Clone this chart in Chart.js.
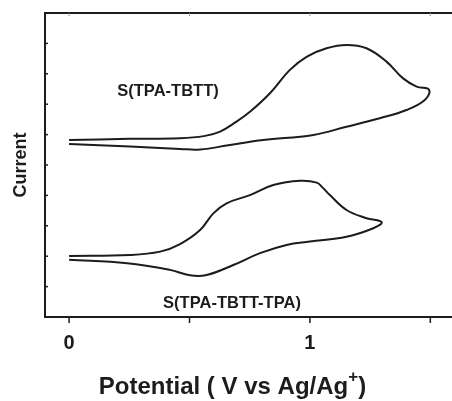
<!DOCTYPE html>
<html>
<head>
<meta charset="utf-8">
<script src="https://cdn.jsdelivr.net/npm/chart.js@4"></script>
<style>
  html, body { margin: 0; padding: 0; background: #fff; }
  #wrap { width: 452px; height: 401px; position: relative; }
</style>
</head>
<body>
<div id="wrap"><canvas id="cvChart"></canvas></div>
<script>
// S(TPA-TBTT) loop: forward scan then return scan
const tbttX = [0, 0.25, 0.46, 0.56, 0.627, 0.69, 0.751, 0.834, 0.917, 0.986, 1.069, 1.152, 1.235, 1.318, 1.387, 1.443, 1.495,
               1.477, 1.401, 1.29, 1.152, 1.014, 0.806, 0.668, 0.544, 0.461, 0.253, 0];
const tbttY = [5.82, 5.86, 5.88, 5.95, 6.1, 6.4, 6.75, 7.36, 8.13, 8.56, 8.84, 8.95, 8.84, 8.4, 7.85, 7.58, 7.47,
               7.14, 6.81, 6.54, 6.26, 5.99, 5.82, 5.66, 5.51, 5.53, 5.61, 5.69];

// S(TPA-TBTT-TPA) loop
const tpaX = [0, 0.253, 0.378, 0.461, 0.544, 0.599, 0.654, 0.751, 0.848, 0.959, 1.028, 1.055, 1.083, 1.152, 1.235, 1.298,
              1.263, 1.152, 1.0, 0.903, 0.793, 0.682, 0.571, 0.502, 0.419, 0.241, 0];
const tpaY = [2.01, 2.04, 2.15, 2.4, 2.86, 3.41, 3.74, 4.01, 4.34, 4.48, 4.42, 4.24, 4.01, 3.52, 3.25, 3.12,
              2.92, 2.64, 2.48, 2.37, 2.1, 1.71, 1.38, 1.37, 1.55, 1.77, 1.88];

const xTicks = [0, 0.5, 1, 1.5];
const xTickLabels = ['0', '', '1', ''];
const yTicks = [1, 2, 3, 4, 5, 6, 7, 8, 9];

const ink = '#1c1c1c';

function toPoints(xs, ys) {
    return xs.map((x, i) => ({x: x, y: ys[i]}));
}

// frame, ticks and all text
const decor = {
    id: 'decor',
    afterDraw(chart) {
        const ctx = chart.ctx;
        const a = chart.chartArea;
        const xs = chart.scales.x;
        const ys = chart.scales.y;
        ctx.save();
        ctx.strokeStyle = ink;
        ctx.lineWidth = 2;
        ctx.beginPath();
        ctx.moveTo(a.right, a.top);
        ctx.lineTo(a.left, a.top);
        ctx.lineTo(a.left, a.bottom);
        ctx.lineTo(a.right, a.bottom);
        ctx.stroke();

        ctx.lineWidth = 1.5;
        xTicks.forEach(v => {
            const px = xs.getPixelForValue(v);
            ctx.beginPath();
            ctx.moveTo(px, a.bottom);
            ctx.lineTo(px, a.bottom + 6);
            ctx.stroke();
        });
        ctx.strokeStyle = '#999';
        ctx.lineWidth = 1;
        xTicks.forEach(v => {
            const px = xs.getPixelForValue(v);
            ctx.beginPath();
            ctx.moveTo(px, a.top);
            ctx.lineTo(px, a.top + 3);
            ctx.stroke();
        });
        ctx.strokeStyle = ink;
        ctx.lineWidth = 1.5;
        yTicks.forEach(v => {
            const py = ys.getPixelForValue(v);
            ctx.beginPath();
            ctx.moveTo(a.left, py);
            ctx.lineTo(a.left + 3, py);
            ctx.stroke();
        });

        ctx.fillStyle = ink;
        ctx.textAlign = 'center';
        ctx.textBaseline = 'middle';
        ctx.font = 'bold 20px "Liberation Sans", Arial, sans-serif';
        xTicks.forEach((v, i) => {
            if (xTickLabels[i]) ctx.fillText(xTickLabels[i], xs.getPixelForValue(v), 343);
        });

        ctx.font = 'bold 16.5px "Liberation Sans", Arial, sans-serif';
        ctx.fillText('S(TPA-TBTT)', 168, 91);
        ctx.fillText('S(TPA-TBTT-TPA)', 232, 303);

        // y title
        ctx.save();
        ctx.translate(21, 165);
        ctx.rotate(-Math.PI / 2);
        ctx.font = 'bold 18px "Liberation Sans", Arial, sans-serif';
        ctx.fillText('Current', 0, 0);
        ctx.restore();

        // x title with superscript
        ctx.textAlign = 'left';
        ctx.textBaseline = 'alphabetic';
        const main = 'Potential ( V vs Ag/Ag';
        ctx.font = 'bold 24px "Liberation Sans", Arial, sans-serif';
        const w1 = ctx.measureText(main).width;
        ctx.font = 'bold 17px "Liberation Sans", Arial, sans-serif';
        const w2 = ctx.measureText('+').width;
        ctx.font = 'bold 24px "Liberation Sans", Arial, sans-serif';
        const w3 = ctx.measureText(')').width;
        let x0 = 232.5 - (w1 + w2 + w3) / 2;
        ctx.fillText(main, x0, 394);
        ctx.font = 'bold 17px "Liberation Sans", Arial, sans-serif';
        ctx.fillText('+', x0 + w1, 382);
        ctx.font = 'bold 24px "Liberation Sans", Arial, sans-serif';
        ctx.fillText(')', x0 + w1 + w2, 394);
        ctx.restore();
    }
};

const cvData = {
    datasets: [{
        label: 'S(TPA-TBTT)',
        data: toPoints(tbttX, tbttY),
        showLine: true,
        borderColor: ink,
        borderWidth: 2,
        pointRadius: 0,
        tension: 0.4,
        fill: false,
    },
        {
            label: 'S(TPA-TBTT-TPA)',
            data: toPoints(tpaX, tpaY),
            showLine: true,
            borderColor: ink,
            borderWidth: 2,
            pointRadius: 0,
            tension: 0.4,
            fill: false,
        }
    ]
};

const cvConfig = {
    type: 'scatter',
    data: cvData,
    options: {
        responsive: true,
        maintainAspectRatio: false,
        animation: false,
        layout: {
            padding: {left: 45, top: 13, right: 0, bottom: 84}
        },
        scales: {
            x: {
                type: 'linear',
                display: false,
                min: -0.1,
                max: 1.59
            },
            y: {
                type: 'linear',
                display: false,
                min: 0,
                max: 10
            }
        },
        plugins: {
            legend: {display: false},
            tooltip: {enabled: false}
        }
    },
    plugins: [decor]
};

const cvChart = new Chart(
    document.getElementById('cvChart'),
    cvConfig
);
</script>
</body>
</html>
